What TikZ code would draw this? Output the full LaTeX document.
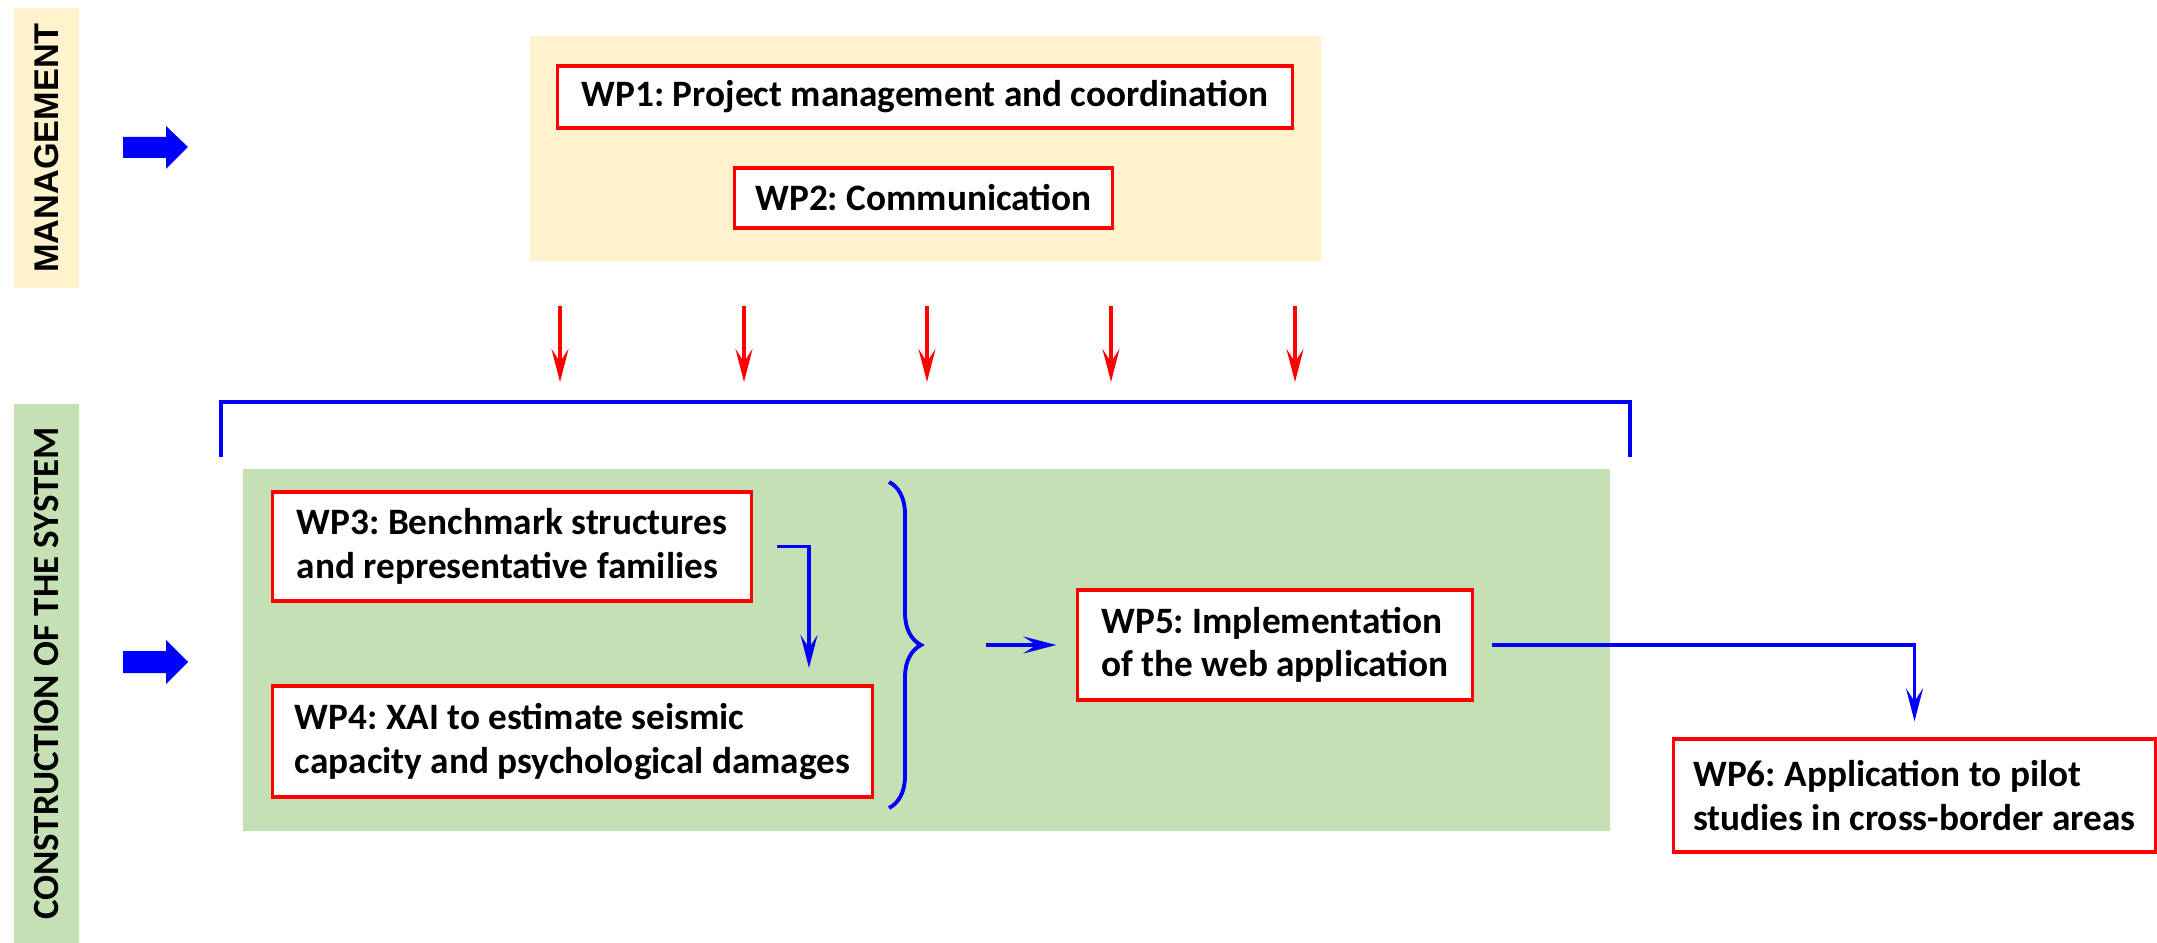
\documentclass[tikz,border=0pt]{standalone}
\usepackage{fontspec}
\setmainfont{Carlito}
\newfontfamily\labelsans{Liberation Sans}
\usetikzlibrary{arrows.meta, positioning, decorations.pathreplacing}

\definecolor{mgmtyellow}{HTML}{FFF2CC}
\definecolor{sysgreen}{HTML}{C5E0B4}
\frenchspacing

\begin{document}
\begin{tikzpicture}[x=0.01cm, y=-0.01cm,
    wpbox/.style={draw=red, line width=0.9pt, fill=white,
                  font=\fontsize{10.6}{12.4}\selectfont\bfseries,
                  inner sep=0pt, align=left},
    sidelabel/.style={rotate=90, inner sep=0pt, minimum height=0.65cm},
    flow/.style={draw=blue, line width=1.1pt, -{Stealth[length=0.33cm, width=0.17cm, inset=0.13cm]}},
    feed/.style={draw=red, line width=1.1pt, -{Stealth[length=0.33cm, width=0.17cm, inset=0.13cm]}},
    bigarrow/.style={fill=blue}]
  \useasboundingbox (0,0) rectangle (2157,943);

  % side labels
  \node[sidelabel, fill=mgmtyellow, minimum width=2.80cm, font=\labelsans\fontsize{9.75}{11}\selectfont\bfseries]
       (mgmtlabel) at (46.5,148) {MANAGEMENT};
  \node[sidelabel, fill=sysgreen, minimum width=5.39cm, font=\fontsize{10.5}{12}\selectfont\bfseries]
       (syslabel) at (46.5,673.5) {CONSTRUCTION OF THE SYSTEM};
  \fill[bigarrow] (123,137) -- (166,137) -- (166,126) -- (188,147) -- (166,169) -- (166,158) -- (123,158) -- cycle;
  \fill[bigarrow] (123,651) -- (166,651) -- (166,640) -- (188,662) -- (166,684) -- (166,673) -- (123,673) -- cycle;

  % panels
  \fill[mgmtyellow] (530,36) rectangle (1321,261);
  \fill[sysgreen] (243,469) rectangle (1610,831);

  % work packages
  \node[wpbox, minimum width=7.34cm, minimum height=0.62cm] (wp1) at (925,97)
       {WP1: Project management and coordination};
  \node[wpbox, minimum width=3.77cm, minimum height=0.60cm] (wp2) at (923.5,198)
       {WP2: Communication};
  \node[wpbox, minimum width=4.78cm, minimum height=1.09cm] (wp3) at (512,546.5)
       {WP3: Benchmark structures\\and representative families};
  \node[wpbox, minimum width=5.99cm, minimum height=1.11cm] (wp4) at (572.5,741.5)
       {WP4: XAI to estimate seismic\\capacity and psychological damages};
  \node[wpbox, minimum width=3.94cm, minimum height=1.10cm] (wp5) at (1275,645)
       {WP5: Implementation\\of the web application};
  \node[wpbox, minimum width=4.81cm, minimum height=1.13cm] (wp6) at (1914.5,795.5)
       {WP6: Application to pilot\\studies in cross-border areas};

  % management feeds the system
  \foreach \x in {560,744,927,1111,1295}
    \draw[feed] (\x,306) -- (\x,382);
  \draw[blue, line width=1.1pt] (221,457) |- (1630,402) -- (1630,457);

  % flow inside the system
  \draw[flow] ([xshift=0.24cm]wp3.east) -| (809,668);
  \draw[blue, line width=1.1pt, decorate, decoration={brace, amplitude=0.32cm, aspect=0.5}]
       (889,482) -- (889,808) coordinate[pos=0.5, xshift=0.64cm] (bracetip);
  \draw[flow] ([xshift=0.33cm]bracetip) -- ([xshift=-0.2cm]wp5.west);
  \draw[flow] ([xshift=0.18cm]wp5.east) -| ([yshift=0.16cm]wp6.north);
\end{tikzpicture}
\end{document}
